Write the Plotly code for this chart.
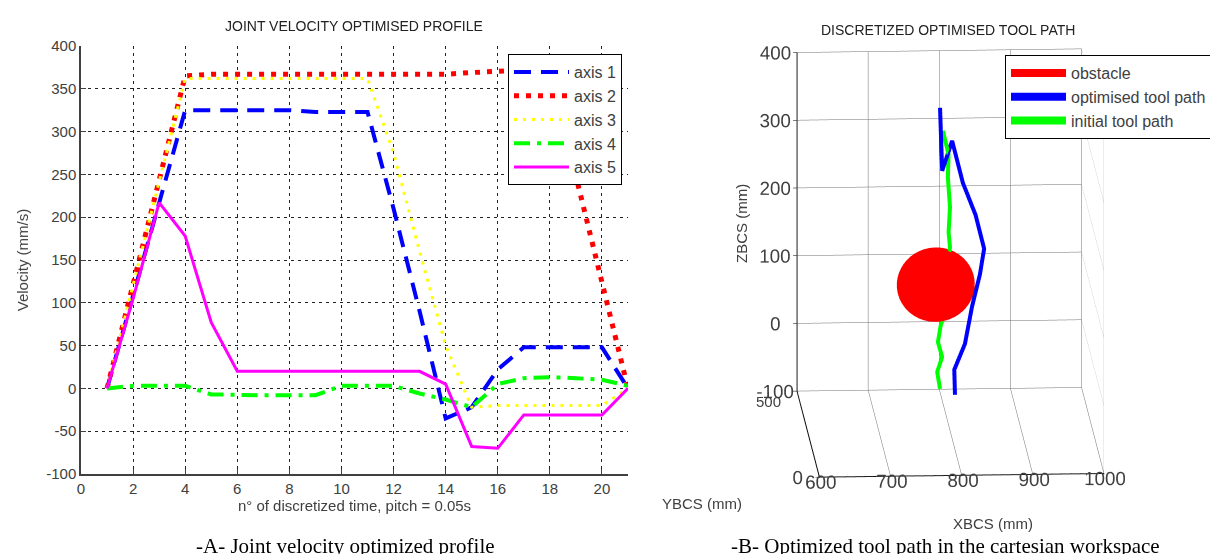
import numpy as np
import plotly.graph_objects as go

# ---------------- Panel A data ----------------
steps = list(range(1, 22))
axis1 = [0, 108, 217, 325, 325, 325, 325, 325, 323, 323, 323, 210, 90, -35, -22, 22, 48, 48, 48, 48, 0]
axis2 = [0, 122, 243, 365, 367, 367, 367, 367, 367, 366, 366, 366, 367, 367, 369, 371, 372, 372, 248, 124, 0]
axis3 = [0, 121, 241, 362, 362, 362, 362, 362, 362, 362, 362, 275, 160, 50, -22, -20, -20, -20, -20, -20, 0]
axis4 = [0, 3, 3, 3, -7, -8, -8, -8, -8, 3, 3, 3, -6, -13, -22, 5, 12, 13, 12, 10, 3]
axis5 = [0, 105, 217, 178, 77, 20, 20, 20, 20, 20, 20, 20, 20, 5, -68, -70, -31, -31, -31, -31, 0]
x_ticks = [0, 2, 4, 6, 8, 10, 12, 14, 16, 18, 20]
y_ticks = [-100, -50, 0, 50, 100, 150, 200, 250, 300, 350, 400]
y_tick_labels = ["-100", "-50", "0", "50", "100", "150", "200", "250", "300", "350", "400"]

# ---------------- Panel B data ----------------
obstacle_center = [790, 420, 75]
obstacle_radius = 52
opt_x = [796, 799, 813, 828, 846, 858, 852, 841, 831, 816, 817]
opt_y = [420, 420, 420, 420, 420, 420, 420, 420, 420, 420, 420]
opt_z = [336, 243, 287, 225, 177, 127, 89, 42, -13, -51, -88]
init_x = [800, 808, 807, 810, 808, 810, 803, 806, 797, 793, 799, 792, 796]
init_y = [420, 420, 420, 420, 420, 420, 420, 420, 420, 420, 420, 420, 420]
init_z = [302, 267, 233, 189, 152, 130, 86, 42, 15, -10, -32, -54, -79]
xb_ticks = [600, 700, 800, 900, 1000]
yb_ticks = [0, 500]
yb_labels = ["0", ""]
zb_ticks = [-100, 0, 100, 200, 300, 400]
zb_labels = ["-100", "0", "100", "200", "300", "400"]

W, H = 1218, 554
FONT = "Liberation Sans, Arial, sans-serif"
SERIF = "Liberation Serif, Times New Roman, serif"
NB = "\u00a0\u00a0"

fig = go.Figure()

styles = [
    ("axis 1", axis1, "#0000ff", 4, "17px,10px"),
    ("axis 2", axis2, "#ff0000", 5, "5px,7px"),
    ("axis 3", axis3, "#ffff00", 3, "3px,6px"),
    ("axis 4", axis4, "#00ff00", 4, "16px,7px,4px,7px"),
    ("axis 5", axis5, "#ff00ff", 3, "solid"),
]
for name, vals, col, w, dash in styles:
    fig.add_trace(go.Scatter(x=steps, y=vals, mode="lines", name=name,
                             line=dict(color=col, width=w, dash=dash),
                             hoverinfo="skip", legend="legend"))

# Panel B traces
cx, cy, cz = obstacle_center
u = np.linspace(0, 2 * np.pi, 48)
v = np.linspace(0, np.pi, 24)
sx = cx + obstacle_radius * np.outer(np.cos(u), np.sin(v))
sy = cy + obstacle_radius * np.outer(np.sin(u), np.sin(v))
sz = cz + obstacle_radius * np.outer(np.ones_like(u), np.cos(v))
fig.add_trace(go.Surface(x=sx, y=sy, z=sz, surfacecolor=np.zeros_like(sx),
                         colorscale=[[0, "#ff0000"], [1, "#ff0000"]], showscale=False,
                         lighting=dict(ambient=1, diffuse=0, specular=0, fresnel=0, roughness=1),
                         hoverinfo="skip", showlegend=False, scene="scene"))
fig.add_trace(go.Scatter3d(x=cx + obstacle_radius * np.cos(u), y=np.full_like(u, cy),
                           z=cz + obstacle_radius * np.sin(u), mode="lines", name="obstacle",
                           line=dict(color="#ff0000", width=8), hoverinfo="skip",
                           scene="scene", legend="legend2"))
fig.add_trace(go.Scatter3d(x=opt_x, y=opt_y, z=opt_z, mode="lines", name="optimised tool path" + NB,
                           line=dict(color="#0000ff", width=8), hoverinfo="skip",
                           scene="scene", legend="legend2"))
fig.add_trace(go.Scatter3d(x=init_x, y=init_y, z=init_z, mode="lines", name="initial tool path",
                           line=dict(color="#00ff00", width=8), hoverinfo="skip",
                           scene="scene", legend="legend2"))

R = 1.5
e = np.radians(12.8)
phi = np.radians(3.3)
eye = dict(x=-np.sin(phi) * np.cos(e) * R, y=-np.cos(phi) * np.cos(e) * R, z=np.sin(e) * R)

ax3 = dict(showbackground=False, showgrid=True, gridcolor="#707070", gridwidth=1,
           showline=True, linecolor="#000000", linewidth=2, zeroline=False,
           ticks="outside", ticklen=4, tickcolor="#000000", showspikes=False, tickangle=0,
           tickfont=dict(family=FONT, size=15, color="#404040"),
           title=dict(text=""))

ann_font = dict(family=FONT, size=15, color="#404040")

fig.update_layout(
    width=W, height=H, margin=dict(l=0, r=0, t=0, b=0, autoexpand=False),
    paper_bgcolor="white", plot_bgcolor="white", showlegend=True,
    xaxis=dict(domain=[73 / W, 620 / W], range=[0, 21], tickvals=x_ticks, automargin=False,
               showgrid=True, gridcolor="#222222", griddash="3px,4px", gridwidth=1,
               showline=True, linecolor="#404040", linewidth=1.5, zeroline=False,
               ticks="inside", ticklen=5, tickcolor="#404040",
               tickfont=dict(family=FONT, size=15, color="#404040"),
               title=dict(text="n° of discretized time, pitch = 0.05s", standoff=4,
                          font=dict(family=FONT, size=15, color="#404040"))),
    yaxis=dict(domain=[(H - 466) / H, (H - 38) / H], range=[-100, 400], tickvals=y_ticks,
               ticktext=y_tick_labels, automargin=False,
               showgrid=True, gridcolor="#222222", griddash="3px,4px", gridwidth=1,
               showline=True, linecolor="#404040", linewidth=1.5, zeroline=False,
               ticks="inside", ticklen=5, tickcolor="#404040",
               tickfont=dict(family=FONT, size=15, color="#404040"),
               title=dict(text="Velocity (mm/s)", standoff=14,
                          font=dict(family=FONT, size=15, color="#404040"))),
    legend=dict(x=614 / W, y=(H - 46) / H, xanchor="right", yanchor="top",
                bgcolor="white", bordercolor="#000000", borderwidth=1,
                font=dict(family=FONT, size=16, color="#404040"), itemwidth=55,
                tracegroupgap=0),
    legend2=dict(x=1213 / W, y=(H - 47) / H, xanchor="right", yanchor="top",
                 bgcolor="white", bordercolor="#000000", borderwidth=1,
                 font=dict(family=FONT, size=16, color="#404040"), itemwidth=55,
                 tracegroupgap=0),
    scene=dict(domain=dict(x=[680 / W, 1205 / W], y=[49 / H, 549 / H]),
               xaxis=dict(ax3, range=[600, 1000], tickvals=xb_ticks),
               yaxis=dict(ax3, range=[0, 500], tickvals=yb_ticks, ticktext=yb_labels),
               zaxis=dict(ax3, range=[-100, 400], tickvals=zb_ticks, ticktext=zb_labels),
               aspectmode="manual", aspectratio=dict(x=1.14, y=1.556, z=1.389),
               camera=dict(projection=dict(type="orthographic"), eye=eye,
                           up=dict(x=0, y=0, z=1), center=dict(x=0, y=0, z=0)),
               dragmode=False),
    annotations=[
        dict(text="JOINT VELOCITY OPTIMISED PROFILE", x=346 / W, y=(H - 18) / H,
             xref="paper", yref="paper", showarrow=False, xanchor="center", yanchor="middle",
             font=dict(family=FONT, size=14, color="#222222")),
        dict(text="DISCRETIZED OPTIMISED TOOL PATH", x=940 / W, y=(H - 22) / H,
             xref="paper", yref="paper", showarrow=False, xanchor="center", yanchor="middle",
             font=dict(family=FONT, size=14, color="#222222")),
        dict(text="500", x=760 / W, y=(H - 393) / H,
             xref="paper", yref="paper", showarrow=False, xanchor="center", yanchor="middle",
             font=ann_font),
        dict(text="XBCS (mm)", x=985 / W, y=(H - 515) / H,
             xref="paper", yref="paper", showarrow=False, xanchor="center", yanchor="middle",
             font=ann_font),
        dict(text="YBCS (mm)", x=694 / W, y=(H - 495) / H,
             xref="paper", yref="paper", showarrow=False, xanchor="center", yanchor="middle",
             font=ann_font),
        dict(text="ZBCS (mm)", x=733 / W, y=(H - 216) / H, textangle=-90,
             xref="paper", yref="paper", showarrow=False, xanchor="center", yanchor="middle",
             font=ann_font),
        dict(text="-A- Joint velocity optimized profile", x=337 / W, y=(H - 538) / H,
             xref="paper", yref="paper", showarrow=False, xanchor="center", yanchor="middle",
             font=dict(family=SERIF, size=21, color="#000000")),
        dict(text="-B- Optimized tool path in the cartesian workspace", x=937 / W, y=(H - 538) / H,
             xref="paper", yref="paper", showarrow=False, xanchor="center", yanchor="middle",
             font=dict(family=SERIF, size=21, color="#000000")),
    ],
)

fig.write_html("out.html", config={"displayModeBar": False})
